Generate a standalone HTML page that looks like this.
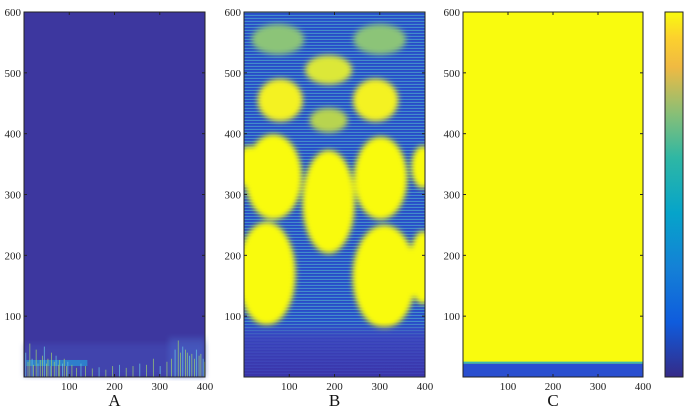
<!DOCTYPE html>
<html><head><meta charset="utf-8"><style>
html,body{margin:0;padding:0;background:#fff;}
svg{display:block;}
text{font-family:"Liberation Serif",serif;}
</style></head><body>
<svg id="fig" width="686" height="412" viewBox="0 0 686 412">
<defs>
<linearGradient id="parula" x1="0" y1="1" x2="0" y2="0">
<stop offset="0" stop-color="#352a87"/><stop offset="0.15" stop-color="#0f5cdd"/>
<stop offset="0.3" stop-color="#1481d6"/><stop offset="0.45" stop-color="#06a4ca"/>
<stop offset="0.6" stop-color="#2eb7a4"/><stop offset="0.72" stop-color="#87bf77"/>
<stop offset="0.85" stop-color="#f0ba42"/><stop offset="0.93" stop-color="#fcd12d"/>
<stop offset="1" stop-color="#f9fb0e"/></linearGradient>
<linearGradient id="botgrad" x1="0" y1="1" x2="0" y2="0">
<stop offset="0" stop-color="#3a33a8"/><stop offset="0.7" stop-color="#3b3fb8" stop-opacity="0.85"/><stop offset="1" stop-color="#3b3fb8" stop-opacity="0"/></linearGradient>
<filter id="blur"><feGaussianBlur stdDeviation="3"/></filter>
<clipPath id="clipB"><rect x="244" y="12" width="181" height="365"/></clipPath>
</defs>
</svg>
<script>
// data
const xTicks=[100,200,300,400];
const yTicks=[100,200,300,400,500,600];
const panelLabels=['A','B','C'];
const spikeX=[3,8,12,17,20,26,30,35,40,44,49,52,57,60,66,70,75,78,84,88,93,96,105,115,125,135,150,165,180,195,210,225,240,255,270,285,300,315,325,333,340,345,350,356,360,365,370,376,380,386,390,395,398];
const spikeH=[40,25,55,30,20,45,22,28,35,50,22,30,18,40,25,35,20,28,22,30,18,25,20,15,22,18,14,16,12,18,20,15,18,22,20,30,18,25,30,45,60,40,50,45,40,35,38,30,45,35,38,30,25];
const blobX=[65,187,302,50,310,395,80,187,291,187,10,395,75,300];
const blobY=[329,288,327,170,165,180,455,505,455,422,345,345,555,555];
const blobRX=[63,58,59,64,70,30,50,52,50,42,25,25,58,58];
const blobRY=[70,85,68,85,85,60,35,24,35,20,35,35,25,25];
const blobC=['#f9fb0e','#f9fb0e','#f9fb0e','#f9fb0e','#f9fb0e','#f9fb0e','#f4f220','#dce838','#f4f220','#b8d450','#f9fb0e','#f9fb0e','#8cc478','#8cc478'];
const bandC=[0,22];
const panels=[{x0:24,x1:205},{x0:244,x1:425},{x0:463,x1:643}];
const yTop=12,yBot=377;
const NS='http://www.w3.org/2000/svg';
const svg=document.getElementById('fig');
function el(t,a,p){const e=document.createElementNS(NS,t);for(const k in a)e.setAttribute(k,a[k]);(p||svg).appendChild(e);return e;}
function sx(p,v){return p.x0+(p.x1-p.x0)*v/400;}
function sy(v){return yBot-(yBot-yTop)*v/600;}
const [A,B,C]=panels;
// Panel A
let r=el('rect',{x:A.x0,y:yTop,width:A.x1-A.x0,height:yBot-yTop,fill:'#3d379f'});

let g2=el('rect',{x:sx(A,0),y:sy(55),width:sx(A,400)-sx(A,0),height:sy(0)-sy(55),fill:'#4a5cc8',opacity:0.35,filter:'url(#blur)'});

let g=el('rect',{x:sx(A,5),y:sy(28),width:sx(A,140)-sx(A,5),height:sy(18)-sy(28),fill:'#22a6e0',opacity:0.6});

let g3=el('rect',{x:sx(A,320),y:sy(65),width:sx(A,400)-sx(A,320),height:sy(0)-sy(65),fill:'#4f7ad8',opacity:0.35,filter:'url(#blur)'});

spikeX.forEach((v,i)=>{const s=el('rect',{x:sx(A,v),y:sy(spikeH[i]),width:0.8,height:sy(0)-sy(spikeH[i]),fill:i%3?'#9fd070':'#6ac7e0',opacity:0.85});
});
// Panel B
r=el('rect',{x:B.x0,y:yTop,width:B.x1-B.x0,height:yBot-yTop,fill:'#2858d0'});

const gb=el('g',{'clip-path':'url(#clipB)'});
for(let yy=yTop;yy<yBot;yy+=3){el('line',{x1:B.x0,x2:B.x1,y1:yy+0.5,y2:yy+0.5,stroke:'#5ab8c8','stroke-width':1,opacity:0.55},gb);
 el('line',{x1:B.x0,x2:B.x1,y1:yy+1.7,y2:yy+1.7,stroke:'#3038b0','stroke-width':0.9,opacity:0.5},gb);}
const gbl=el('g',{filter:'url(#blur)'},gb);
blobX.forEach((v,i)=>{const e=el('ellipse',{cx:sx(B,v),cy:sy(blobY[i]),rx:(B.x1-B.x0)*blobRX[i]/400,ry:(yBot-yTop)*blobRY[i]/600,fill:blobC[i]},gbl);
});
let bot=el('rect',{x:B.x0,y:sy(90),width:B.x1-B.x0,height:sy(0)-sy(90),fill:'url(#botgrad)'},gb);

for(let yy=sy(80);yy<yBot;yy+=3){el('line',{x1:B.x0,x2:B.x1,y1:yy,y2:yy,stroke:'#4a60d0','stroke-width':0.8,opacity:0.4},gb);}
// Panel C
r=el('rect',{x:C.x0,y:yTop,width:C.x1-C.x0,height:yBot-yTop,fill:'#f9fb0e'});

r=el('rect',{x:C.x0,y:sy(bandC[1]),width:C.x1-C.x0,height:sy(bandC[0])-sy(bandC[1]),fill:'#2a4fd0'});

r=el('rect',{x:C.x0,y:sy(bandC[1])-2,width:C.x1-C.x0,height:2,fill:'#3cb9b0'});

// axes
panels.forEach((p,i)=>{
 const fr=el('rect',{x:p.x0,y:yTop,width:p.x1-p.x0,height:yBot-yTop,fill:'none',stroke:'#222','stroke-width':1});
 
 xTicks.forEach(t=>{const x=sx(p,t);
  el('line',{x1:x,x2:x,y1:yBot,y2:yBot-3,stroke:'#222'});el('line',{x1:x,x2:x,y1:yTop,y2:yTop+3,stroke:'#222'});
  const tx=el('text',{x:x,y:yBot+13,'font-size':11,'text-anchor':'middle',fill:'#222','font-family':'Liberation Serif, serif'});tx.textContent=t;
  });
 yTicks.forEach(t=>{const y=sy(t);
  el('line',{x1:p.x0,x2:p.x0+3,y1:y,y2:y,stroke:'#222'});el('line',{x1:p.x1,x2:p.x1-3,y1:y,y2:y,stroke:'#222'});
  const tx=el('text',{x:p.x0-3,y:y+4,'font-size':11,'text-anchor':'end',fill:'#222','font-family':'Liberation Serif, serif'});tx.textContent=t;
  });
 const lb=el('text',{x:(p.x0+p.x1)/2,y:406,'font-size':17,'text-anchor':'middle',fill:'#111','font-family':'Liberation Serif, serif'});lb.textContent=panelLabels[i];
 
});
// colorbar
const cb=el('rect',{x:665,y:yTop,width:18,height:yBot-yTop,fill:'url(#parula)',stroke:'#222','stroke-width':1});

</script>
</body></html>
